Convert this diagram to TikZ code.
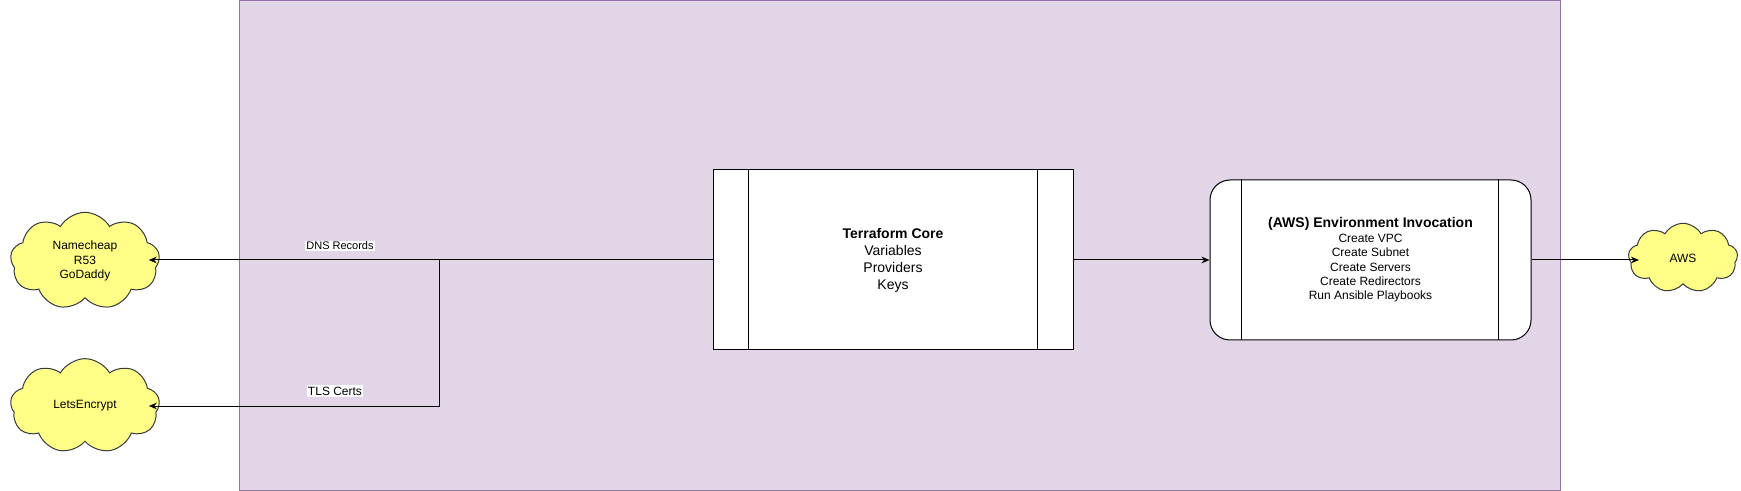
\documentclass[tikz,border=0pt]{standalone}
\usepackage{fontspec}
\setmainfont{Liberation Sans}
\usetikzlibrary{shapes.symbols, arrows.meta, calc, positioning}

\definecolor{framefill}{HTML}{E1D5E7}
\definecolor{frameline}{HTML}{9673A6}
\definecolor{cloudfill}{HTML}{FFFF88}
\definecolor{cloudline}{HTML}{36393D}

\tikzset{
  cloudnode/.style={cloud, cloud puffs=9, cloud puff arc=120, cloud ignores aspect, draw=cloudline, fill=cloudfill,
    line width=0.75pt, align=center, inner sep=0pt, font=\fontsize{9}{11}\selectfont},
  corebox/.style={draw=black, fill=white, line width=0.75pt, align=center,
    minimum width=270pt, minimum height=135pt, font=\fontsize{10.5}{12.75}\selectfont},
  envbox/.style={draw=black, fill=white, line width=0.75pt, align=center, rounded corners=15pt,
    minimum width=240.75pt, minimum height=120pt, font=\fontsize{9}{10.8}\selectfont},
  link/.style={draw=black, line width=0.75pt, -{Stealth[length=6pt, width=5pt]}},
  intocloud/.style={shorten >=-8pt},
  edgelabel/.style={fill=white, inner sep=1pt}
}

\begin{document}
\begin{tikzpicture}[x=0.75pt, y=-0.75pt]
                    \useasboundingbox (0, 0) rectangle (1741, 491);

                    % frame
                    \draw[fill=framefill, draw=frameline, line width=0.75pt]
                    (239, 0.5) rectangle (1560, 490);

                    % boxes
                    \node[corebox] (core) at (893, 260)
                    {\textbf{Terraform Core}\\Variables\\Providers\\Keys};
                    \draw[line width=0.75pt]
                    ($(core.north west)+(36, 0)$) -- ($(core.south west)+(36, 0)$)
                    ($(core.north east)+(-36, 0)$) -- ($(core.south east)+(-36, 0)$);

                    \node[envbox] (env) at (1370.5, 260)
                    {{\fontsize{10.5}{12}\selectfont\bfseries (AWS) Environment Invocation}\\
                     Create VPC\\Create Subnet\\Create Servers\\Create Redirectors\\Run Ansible Playbooks};
                    \draw[line width=0.75pt]
                    ($(env.north west)+(32, 0)$) -- ($(env.south west)+(32, 0)$)
                    ($(env.north east)+(-33, 0)$) -- ($(env.south east)+(-33, 0)$);

                    % clouds
                    \node[cloudnode, minimum width=112pt, minimum height=73pt] (dns) at (85, 261)
                    {Namecheap\\R53\\GoDaddy};
                    \node[cloudnode, minimum width=112pt, minimum height=71pt] (le) at (85, 406)
                    {LetsEncrypt};
                    \node[cloudnode, minimum width=82pt, minimum height=52pt] (aws) at (1683, 258)
                    {AWS};

                    % connectors
                    \coordinate (split) at (439, 260);
                    \coordinate (bend) at (439, 406);
                    \draw[link, intocloud] (core.west) -- (core.west -| dns.east);
                    \draw[link, intocloud] (split) -- (bend) -- (bend -| le.east);
                    \draw[link] (core.east) -- (env.west);
                    \draw[link, intocloud] (env.east) -- (env.east -| aws.west);

                    \node[edgelabel, font=\fontsize{8.25}{10}\selectfont] (dnslabel) at (340, 246) {DNS Records};
                    \node[edgelabel, font=\fontsize{9}{11}\selectfont] (tlslabel) at (335, 391) {TLS Certs};
\end{tikzpicture}
\end{document}
